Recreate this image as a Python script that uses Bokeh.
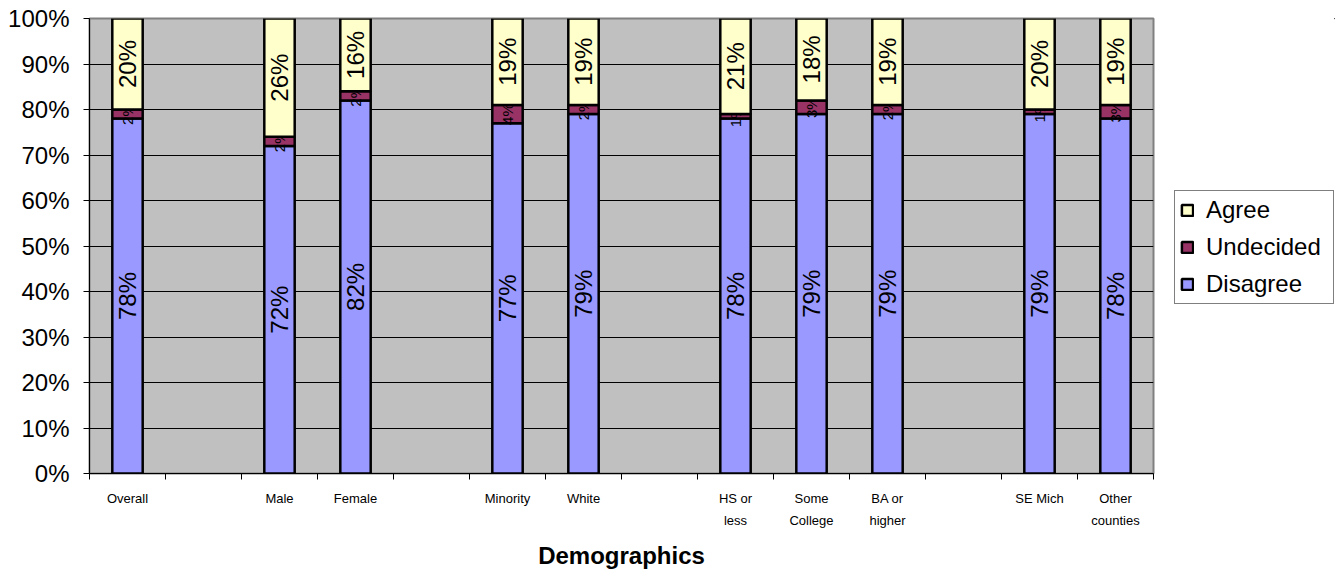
import math
from bokeh.plotting import figure
from bokeh.layouts import row
from bokeh.models import (ColumnDataSource, FixedTicker, Range1d, Legend, LegendItem,
                          PrintfTickFormatter)
from bokeh.core.properties import value
from bokeh.embed import file_html
from bokeh.resources import INLINE

# ---- data ----
categories = ["Overall", "", "Male", "Female", "", "Minority", "White", "",
              "HS or\nless", "Some\nCollege", "BA or\nhigher", "", "SE Mich", "Other\ncounties"]
disagree = [78, None, 72, 82, None, 77, 79, None, 78, 79, 79, None, 79, 78]
undecided = [2, None, 2, 2, None, 4, 2, None, 1, 3, 2, None, 1, 3]
agree = [20, None, 26, 16, None, 19, 19, None, 21, 18, 19, None, 20, 19]
y_ticks = [0, 10, 20, 30, 40, 50, 60, 70, 80, 90, 100]

series_names = ["Disagree", "Undecided", "Agree"]
series_colors = ["#9999FF", "#993366", "#FFFFCC"]
FONT = "Liberation Sans"

# ---- build sources ----
idx = [i for i, c in enumerate(categories) if disagree[i] is not None]
xs = [i + 0.5 for i in idx]

p = figure(width=1160, height=571, output_backend="svg", toolbar_location=None,
           x_range=Range1d(0, len(categories)), y_range=Range1d(0, 100),
           min_border_left=89, min_border_right=7, min_border_top=18, min_border_bottom=98)
p.background_fill_color = "#C0C0C0"
p.border_fill_color = "white"
p.outline_line_color = "#808080"
p.outline_line_width = 2

bottoms = [0] * len(idx)
for name, vals, col in zip(series_names, [disagree, undecided, agree], series_colors):
    v = [vals[i] for i in idx]
    tops = [b + a for b, a in zip(bottoms, v)]
    src = ColumnDataSource(dict(x=xs, bottom=bottoms, top=tops,
                                mid=[(b + t) / 2 for b, t in zip(bottoms, tops)],
                                label=["%d%%" % a for a in v]))
    p.vbar(x="x", width=0.4, bottom="bottom", top="top", source=src,
           fill_color=col, line_color="black", line_width=2.5)
    fs = "15px" if name == "Undecided" else "24px"
    p.text(x="x", y="mid", text="label", source=src, angle=math.pi / 2,
           text_align="center", text_baseline="middle", text_font=value(FONT),
           text_font_size=fs, text_color="black")
    bottoms = tops

# ---- axes ----
xa = p.xaxis[0]
xa.ticker = FixedTicker(ticks=xs, minor_ticks=list(range(0, len(categories) + 1)))
xa.major_label_overrides = {x: categories[i] for x, i in zip(xs, idx)}
xa.major_tick_line_color = None
xa.major_tick_out = 0
xa.major_tick_in = 0
xa.minor_tick_line_color = "black"
xa.minor_tick_out = 6
xa.minor_tick_in = 0
xa.axis_line_color = "black"
xa.major_label_text_font = FONT
xa.major_label_text_font_size = "13px"
xa.major_label_text_line_height = 1.47
xa.major_label_text_color = "black"
xa.major_label_standoff = 11
xa.axis_label = "Demographics"
xa.axis_label_text_font = FONT
xa.axis_label_text_font_size = "24px"
xa.axis_label_text_font_style = "bold"
xa.axis_label_text_color = "black"
xa.axis_label_standoff = 11

ya = p.yaxis[0]
ya.ticker = FixedTicker(ticks=y_ticks)
ya.formatter = PrintfTickFormatter(format="%d%%")
ya.minor_tick_line_color = None
ya.major_tick_out = 6
ya.major_tick_in = 0
ya.axis_line_color = "black"
ya.major_label_text_font = FONT
ya.major_label_text_font_size = "24px"
ya.major_label_text_color = "black"
ya.major_label_standoff = 14

p.xgrid.grid_line_color = None
p.ygrid.grid_line_color = "black"
p.ygrid.grid_line_width = 1
p.ygrid.ticker = FixedTicker(ticks=y_ticks)

# ---- legend panel ----
q = figure(width=175, height=571, output_backend="svg", toolbar_location=None,
           x_range=Range1d(0, 1), y_range=Range1d(0, 1),
           min_border=0, min_border_left=0, min_border_right=0, min_border_top=0, min_border_bottom=0)
q.axis.visible = False
q.grid.visible = False
q.outline_line_color = None
q.background_fill_color = "white"
q.border_fill_color = "white"
leg_renderers = {}
for name, col in zip(series_names, series_colors):
    # swatch renderers kept outside the visible range; only their legend glyphs show
    leg_renderers[name] = q.vbar(x=[5], width=0.4, top=[6], bottom=[5], fill_color=col,
                                 line_color="black", line_width=2.5)
legend = Legend(items=[LegendItem(label=n, renderers=[leg_renderers[n]]) for n in ["Agree", "Undecided", "Disagree"]],
                location=(14, 169), margin=0)
legend.label_text_font = FONT
legend.label_text_font_size = "24px"
legend.label_text_color = "black"
legend.glyph_width = 14
legend.glyph_height = 14
legend.label_standoff = 12
legend.label_width = 122
legend.spacing = 9
legend.padding = 5
legend.border_line_color = "black"
legend.border_line_width = 1
legend.background_fill_color = "white"
legend.background_fill_alpha = 1
q.add_layout(legend)

open("out.html", "w").write(file_html(row(p, q), INLINE))
